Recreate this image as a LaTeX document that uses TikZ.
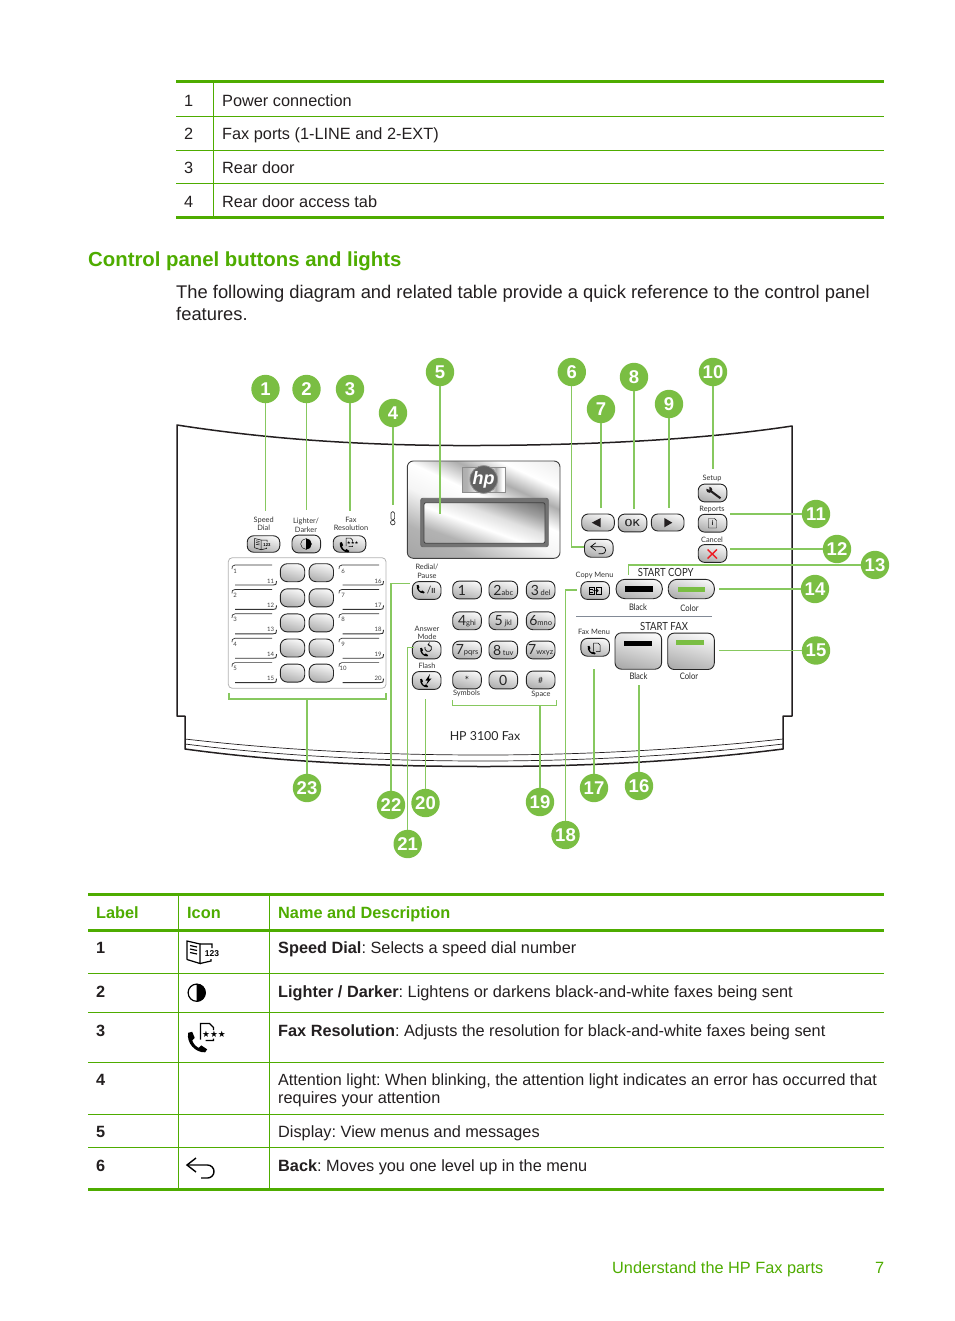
\documentclass[tikz,border=0pt]{standalone}
\usepackage{fontspec}
\usepackage{xcolor}
\usetikzlibrary{calc,positioning}
\setmainfont{Liberation Sans}
\newfontfamily\panelfont{Lato}
\newfontfamily\startfont[FakeStretch=0.85]{Lato}
\newfontfamily\symbolfont{DejaVu Sans}
\definecolor{tableGreen}{RGB}{78,172,0}
\definecolor{calloutGreen}{RGB}{122,190,67}
\definecolor{leaderGreen}{RGB}{135,200,95}
\definecolor{lineGray}{RGB}{130,138,150}
\definecolor{inkBlack}{RGB}{35,31,32}
\definecolor{crossRed}{RGB}{237,28,36}
\pgfdeclarehorizontalshading{metalShade}{100bp}{color(0bp)=(black!42);color(30bp)=(black!30);
  color(45bp)=(black!4);color(55bp)=(white);color(64bp)=(black!32);color(72bp)=(white);color(100bp)=(black!18)}
\pgfdeclarehorizontalshading{screenShade}{100bp}{color(0bp)=(black!38);color(30bp)=(black!30);
  color(46bp)=(white);color(58bp)=(black!12);color(70bp)=(black!38);color(100bp)=(black!85)}
\newcommand{\keyDigit}[1]{{\fontsize{14}{14}\selectfont #1}}
\newcommand{\keyLetters}[1]{{\fontsize{7.5}{8}\selectfont #1}}
\newcommand{\phonePath}{(-9,-9) -- (-5,-10) -- (-2.5,-4) -- (-5,-1.5) .. controls (-4,2) and (-1,5) .. (1.5,6)
  -- (4,3.5) -- (10,7.5) -- (8,10.5) .. controls (-2,11) and (-11,1) .. cycle}
\tikzset{
  bodyText/.style={anchor=base west, inner sep=0pt, text=inkBlack, font=\fontsize{16.3}{19}\selectfont},
  boldNum/.style={bodyText, font=\fontsize{16.3}{19}\selectfont\bfseries},
  introText/.style={bodyText, font=\fontsize{18.35}{22}\selectfont},
  headText/.style={anchor=base west, inner sep=0pt, text=tableGreen, font=\fontsize{16.3}{19}\selectfont\bfseries},
  sectionText/.style={anchor=base west, inner sep=0pt, text=tableGreen, font=\fontsize{20.35}{24}\selectfont\bfseries},
  thickRule/.style={draw=tableGreen, line width=3pt},
  thinRule/.style={draw=tableGreen, line width=.9pt},
  callout/.style={circle, fill=calloutGreen, inner sep=0pt, minimum size=28.4pt, text=white,
    font=\fontsize{18.5}{20}\selectfont\bfseries},
  leader/.style={draw=leaderGreen, line width=1.3pt},
  panelLine/.style={draw=inkBlack, line width=1.5pt},
  smallLabel/.style={inner sep=0pt, align=center, text=black!80, font=\panelfont\fontsize{7.4}{8.4}\selectfont},
  startSub/.style={smallLabel, text=black!85, font=\startfont\fontsize{9}{9}\selectfont},
  startLabel/.style={inner sep=0pt, text=black!85, font=\startfont\fontsize{11.2}{12}\selectfont},
  keyPill/.style={draw=black!85, line width=.9pt, rounded corners=6.5pt, inner sep=0pt, top color=black!3,
    bottom color=black!32, shading angle=-15, minimum width=28.6pt, minimum height=17.8pt,
    text=black!85, font=\panelfont},
  memKey/.style={keyPill, minimum width=24.4pt, minimum height=18pt, rounded corners=7pt},
  longKey/.style={keyPill, minimum width=32.6pt, minimum height=17pt},
  startKey/.style={keyPill, minimum width=46.2pt, minimum height=19.4pt, rounded corners=9pt},
  faxKey/.style={keyPill, minimum width=46.6pt, minimum height=36.4pt},
  slotLine/.style={draw=black!80, line width=.7pt},
  slotNum/.style={inner sep=0pt, text=black!75, font=\panelfont\fontsize{6}{6}\selectfont},
  bookicon/.pic={
    \draw (-13,7.5) -- (-13,-11) -- (0,-8) -- (0,11.5) -- (-13,7.5);
    \draw (0,-8) -- (12,-8) -- (12,-4) (0,11.5) -- (11,9) -- (11,7);
    \draw (-10,-6.5) -- (-3,-5) (-10,-3) -- (-3,-1.5) (-10,.5) -- (-3,2);
    \node[transform shape, inner sep=0pt, font=\fontsize{8.5}{9}\selectfont\bfseries] (-num) at (12,2) {123};
  },
  halficon/.pic={
    \draw (0,0) circle (8.6);
    \fill (0,-9) arc[start angle=-90, end angle=90, radius=9] -- cycle;
  },
  backicon/.pic={
    \draw (-5,-10) -- (-14,-3) -- (-5,4);
    \draw (-14,-3) -- (6.5,-3) arc[start angle=-90, end angle=90, radius=6.5] -- (0,10);
  },
  phoneicon/.pic={
    \fill \phonePath;
  },
  docicon/.pic={
    \draw (-6,2) -- (-6,-14) -- (3,-14) -- (7,-10) -- (7,3) -- (-1,3);
  },
  resicon/.pic={
    \fill[shift={(-9.3,4.3)}] \phonePath;
    \draw (-6,2) -- (-6,-14) -- (3,-14) -- (7,-10) -- (7,-7.5) (7,1) -- (7,3) -- (-1,3);
    \node[transform shape, inner sep=0pt, font=\symbolfont\fontsize{8.8}{9}\selectfont] (-stars) at (7.5,-3.3) {★★★};
  },
  copyicon/.pic={
    \draw (-10,-5) rectangle (-1.5,6) (1.5,-5) rectangle (10,6);
    \draw (-4,.5) -- (5,.5) (2.5,-2) -- (5,.5) -- (2.5,3);
    \draw (-8,-2) -- (-3.5,-2) (-8,2.5) -- (-3.5,2.5);
  },
}
\begin{document}
\frenchspacing
\begin{tikzpicture}[x=1pt,y=-1pt]
  \useasboundingbox (0,0) rectangle (954,1321);
  % Parts table
  \draw[thickRule] (176,81.5) -- (884,81.5);
  \draw[thinRule] (176,116.5) -- (884,116.5);
  \draw[thinRule] (176,150.5) -- (884,150.5);
  \draw[thinRule] (176,183.5) -- (884,183.5);
  \draw[thickRule] (176,218) -- (884,218);
  \draw[thinRule] (213.5,82) -- (213.5,218);
  \node[bodyText] (partNum1) at (184,106.5) {1};
  \node[bodyText] (partText1) at (222,106.5) {Power connection};
  \node[bodyText] (partNum2) at (184,139.5) {2};
  \node[bodyText] (partText2) at (222,139.5) {Fax ports (1-LINE and 2-EXT)};
  \node[bodyText] (partNum3) at (184,173.5) {3};
  \node[bodyText] (partText3) at (222,173.5) {Rear door};
  \node[bodyText] (partNum4) at (184,207.5) {4};
  \node[bodyText] (partText4) at (222,207.5) {Rear door access tab};
  % Section heading
  \node[sectionText] (sectionTitle) at (88,266.5) {Control panel buttons and lights};
  \node[introText] (introLine1) at (176,298.5) {The following diagram and related table provide a quick reference to the control panel};
  \node[introText] (introLine2) at (176,320.5) {features.};
  % Panel outline
  \draw[panelLine, line cap=round, line join=round] (177,716) -- (177,425)
    .. controls (280,441) and (380,446) .. (480,445.5)
    .. controls (590,445) and (700,440) .. (792,426) -- (792,716) -- (783,716) -- (783,749);
  \draw[panelLine, line join=round] (177,716) -- (185,716) -- (185,749)
    .. controls (280,762) and (380,766.5) .. (484,766.5)
    .. controls (580,766.5) and (680,762) .. (783,749);
  \draw[draw=inkBlack, line width=.7pt] (185,739) .. controls (280,750) and (380,755) .. (484,755)
    .. controls (580,755) and (680,750) .. (783,739);
  \draw[draw=inkBlack, line width=.7pt] (185,744) .. controls (280,756) and (380,761) .. (484,761)
    .. controls (580,761) and (680,756) .. (783,744);
  \node[startLabel, font=\panelfont\fontsize{12.4}{13}\selectfont] (modelName) at (485,736) {HP 3100 Fax};
  % Display
  \draw[draw=black!75, line width=.9pt, rounded corners=6pt, shading=metalShade, shading angle=65]
    (407.3,461) rectangle (560,558.3);
  \draw[draw=black!45, line width=.6pt, shading=metalShade, shading angle=0]
    (462.7,467.3) rectangle (505,492.7);
  \node[circle, fill=black!62, draw=black!45, line width=.8pt, minimum size=23pt, inner sep=0pt, text=white,
    font=\fontsize{18}{18}\selectfont\bfseries\itshape] (hpLogo) at (483.7,479.5) {hp};
  \draw[draw=black!60, line width=.8pt, fill=black!55, rounded corners=2pt]
    (420.7,498.3) rectangle (548.3,546.7);
  \draw[draw=black!75, line width=.8pt, rounded corners=2pt, shading=screenShade, shading angle=70]
    (424,502.7) rectangle (545,543.3);
  % Attention light
  \draw[draw=black!80, line width=.7pt, rounded corners=1.5pt] (391,511.7) rectangle (394.6,520);
  \draw[draw=black!80, line width=.7pt] (392.8,522.6) circle (2.3);
  % Top buttons
  \node[smallLabel] (speedLabel) at (263.7,524) {Speed\\Dial};
  \node[smallLabel] (lighterLabel) at (306,525.5) {Lighter/\\Darker};
  \node[smallLabel] (faxResLabel) at (351,524) {Fax\\Resolution};
  \node[longKey, minimum height=16.5pt] (speedKey) at (263.5,544) {};
  \node[keyPill] (lighterKey) at (306.3,544) {};
  \node[longKey, minimum height=16.5pt] (faxResKey) at (349.5,544) {};
  \pic[scale=.5, line width=.5pt] (speedIcon) at (261,544) {bookicon};
  \pic[scale=.62] (lighterIcon) at (306,544) {halficon};
  \pic[scale=.5, line width=.5pt] (faxResIcon) at (349,545) {resicon};
  % Speed dial block
  \draw[draw=black!30, line width=.8pt, rounded corners=4pt] (228.3,557.7) rectangle (386,688.3);
  \foreach \slotRow/\leftNum/\leftEnd/\rightNum/\rightEnd in {0/1/11/6/16,1/2/12/7/17,2/3/13/8/18,3/4/14/9/19,4/5/15/10/20}{
    \pgfmathsetmacro\slotY{565+24.4*\slotRow}
    \pgfmathsetmacro\keyY{572.7+25.1*\slotRow}
    \node[memKey] (memLeft\slotRow) at (292.5,\keyY) {};
    \node[memKey] (memRight\slotRow) at (321.3,\keyY) {};
    \draw[slotLine] (232,\slotY+4) .. controls (232,\slotY+1) .. (235,\slotY) -- (272,\slotY);
    \draw[slotLine, line width=.9pt] (235,\slotY+20) -- (273,\slotY+20) .. controls (276,\slotY+20) .. (276.5,\slotY+16);
    \draw[slotLine] (339,\slotY+4) .. controls (339,\slotY+1) .. (342,\slotY) -- (379,\slotY);
    \draw[slotLine, line width=.9pt] (342.5,\slotY+20) -- (380,\slotY+20) .. controls (383,\slotY+20) .. (383.5,\slotY+16);
    \node[slotNum] (slotNumL\slotRow) at (235.2,\slotY+6) {\leftNum};
    \node[slotNum] (slotEndL\slotRow) at (270.5,\slotY+16) {\leftEnd};
    \node[slotNum] (slotNumR\slotRow) at (343,\slotY+6) {\rightNum};
    \node[slotNum] (slotEndR\slotRow) at (378,\slotY+16) {\rightEnd};
  }
  \draw[leader, line width=1.8pt] (228.8,693) -- (228.8,699) -- (385.6,699) -- (385.6,693);
  % Function keys
  \node[smallLabel] (redialLabel) at (427,571.3) {Redial/\\Pause};
  \node[keyPill] (redialKey) at (426.7,590.5) {\hspace*{9pt}\fontsize{10}{10}\selectfont/\textbf{\fontsize{7}{7}\selectfont II}};
  \pic[scale=.42] (redialIcon) at (420.5,589) {phoneicon};
  \node[smallLabel] (answerLabel) at (427,633) {Answer\\Mode};
  \node[keyPill] (answerKey) at (426.7,650) {};
  \pic[scale=.42] (answerIcon) at (424,652) {phoneicon};
  \draw[line width=.7pt, -{>[scale=.6]}] (425,647) arc[start angle=200, end angle=-100, radius=3.4];
  \node[smallLabel] (flashLabel) at (427,666) {Flash};
  \node[keyPill] (flashKey) at (426.7,680.5) {};
  \pic[scale=.42] (flashIcon) at (424,683) {phoneicon};
  \fill (430,674) -- (425.5,680.5) -- (428,680.5) -- (426,685) -- (431.5,678.5) -- (428.8,678.5) -- cycle;
  % Number keys
  \node[keyPill] (keyOne) at (467,590) {\keyDigit{1}\hspace*{10pt}};
  \node[keyPill] (keyTwo) at (503.3,590) {\keyDigit{2}\keyLetters{abc}};
  \node[keyPill] (keyThree) at (540.7,590) {\keyDigit{3}\,\keyLetters{del}};
  \node[keyPill] (keyFour) at (467,620.8) {\keyDigit{4}\keyLetters{ghi}};
  \node[keyPill] (keyFive) at (503.3,620.8) {\keyDigit{5}\,\keyLetters{jkl}};
  \node[keyPill] (keySix) at (540.7,620.8) {\keyDigit{6}\keyLetters{mno}};
  \node[keyPill] (keySeven) at (467,650) {\keyDigit{7}\keyLetters{pqrs}};
  \node[keyPill] (keyEight) at (503.3,650) {\keyDigit{8}\,\keyLetters{tuv}};
  \node[keyPill] (keyNine) at (540.7,650) {\keyDigit{7}\keyLetters{wxyz}};
  \node[keyPill, font=\panelfont\fontsize{11}{11}\selectfont] (keyStar) at (467,680) {*};
  \node[keyPill] (keyZero) at (503.3,680) {\keyDigit{0}};
  \node[keyPill, font=\panelfont\fontsize{8.5}{9}\selectfont] (keyHash) at (540.7,680) {\#};
  \node[smallLabel] (symbolsLabel) at (466.5,693.5) {Symbols};
  \node[smallLabel] (spaceLabel) at (541,694) {Space};
  \draw[leader, line width=1pt] (452.3,700) -- (452.3,705.3) -- (556.7,705.3) -- (556.7,700);
  % Navigation keys
  \node[longKey] (leftKey) at (598,522.5) {};
  \node[keyPill] (okKey) at (632.5,523) {\fontsize{10}{10}\selectfont\sffamily\bfseries OK};
  \node[longKey] (rightKey) at (667.7,522.5) {};
  \fill[inkBlack] (591.7,522.7) -- (600.7,518) -- (600.7,527.3) -- cycle;
  \fill[inkBlack] (672.3,522.7) -- (664.3,518) -- (664.3,527.3) -- cycle;
  \node[keyPill] (backKey) at (598.8,548.3) {};
  \pic[scale=.55, line width=.7pt] (backPanelIcon) at (598.5,548.3) {backicon};
  % Setup, reports and cancel
  \node[smallLabel] (setupLabel) at (712,478) {Setup};
  \node[keyPill] (setupKey) at (712.5,493) {};
  \draw[line width=2.1pt, inkBlack] (710,490.5) -- (720.5,498.3);
  \fill[inkBlack] (709.3,489.8) circle (3);
  \fill[black!15] (705.5,488) -- (709.5,485.5) -- (709.3,489.8) -- cycle;
  \node[smallLabel] (reportsLabel) at (712,509) {Reports};
  \node[keyPill, font=\fontsize{7}{7}\selectfont\bfseries] (reportsKey) at (712.5,523.2) {i};
  \draw[line width=.4pt] (708.5,518.5) -- (714.5,518.5) -- (716.5,520.5) -- (716.5,528) -- (708.5,528) -- cycle;
  \node[smallLabel] (cancelLabel) at (712,539.5) {Cancel};
  \node[keyPill] (cancelKey) at (712.5,553.5) {};
  \draw[draw=crossRed, line width=1.4pt] (707.5,549.5) -- (717,558.5) (717,549.5) -- (707.5,558.5);
  % Copy keys
  \node[startLabel] (startCopy) at (665.7,572) {START COPY};
  \node[smallLabel] (copyMenuLabel) at (594.5,575) {Copy Menu};
  \node[keyPill] (copyMenuKey) at (595.2,590.5) {};
  \pic[scale=.62, line width=.5pt] (copyMenuIcon) at (595.2,590.3) {copyicon};
  \node[startKey] (copyBlackKey) at (639.2,589) {};
  \node[startKey] (copyColorKey) at (691.3,589) {};
  \fill[black] (625,586) rectangle (653,592);
  \fill[calloutGreen] (677.7,586.5) rectangle (705,591.7);
  \node[startSub] (copyBlackLabel) at (638,607) {Black};
  \node[startSub] (copyColorLabel) at (689.5,608) {Color};
  \draw[draw=lineGray, line width=.7pt] (576,616.7) -- (711.7,616.7);
  % Fax keys
  \node[startLabel] (startFax) at (664,626) {START FAX};
  \node[smallLabel] (faxMenuLabel) at (594,632) {Fax Menu};
  \node[keyPill] (faxMenuKey) at (595.2,647.3) {};
  \pic[scale=.42] (faxMenuPhone) at (591.5,650) {phoneicon};
  \pic[scale=.5, line width=.5pt] (faxMenuDoc) at (596.5,650) {docicon};
  \node[faxKey] (faxBlackKey) at (638.3,651) {};
  \node[faxKey] (faxColorKey) at (691,651.3) {};
  \fill[black] (624,641) rectangle (652,646);
  \fill[calloutGreen] (676,640) rectangle (704,645);
  \node[startSub] (faxBlackLabel) at (638.5,676) {Black};
  \node[startSub] (faxColorLabel) at (689,676) {Color};
  % Callouts
  \node[callout] (call1) at (265.5,389) {1};
  \node[callout] (call2) at (306.5,389) {2};
  \node[callout] (call3) at (350,389) {3};
  \node[callout] (call4) at (393,413) {4};
  \node[callout] (call5) at (440,372) {5};
  \node[callout] (call6) at (571.8,372) {6};
  \node[callout] (call7) at (601,409) {7};
  \node[callout] (call8) at (634,377) {8};
  \node[callout] (call9) at (669,404) {9};
  \node[callout] (call10) at (713,372) {10};
  \node[callout] (call11) at (816,514) {11};
  \node[callout] (call12) at (837,549) {12};
  \node[callout] (call13) at (875,565) {13};
  \node[callout] (call14) at (815,589) {14};
  \node[callout] (call15) at (816,650.5) {15};
  \node[callout] (call16) at (639,786) {16};
  \node[callout] (call17) at (594,788) {17};
  \node[callout] (call18) at (565.5,835) {18};
  \node[callout] (call19) at (540,802) {19};
  \node[callout] (call20) at (425.5,803) {20};
  \node[callout] (call21) at (407.7,844) {21};
  \node[callout] (call22) at (391,805) {22};
  \node[callout] (call23) at (307,788) {23};
  % Callout ends
  \coordinate (end1) at (265.5,511);
  \coordinate (end2) at (306.5,510);
  \coordinate (end3) at (350,511);
  \coordinate (end4) at (393,505);
  \coordinate (end5) at (440,514);
  \coordinate (end6) at (583.5,547);
  \coordinate (end7) at (601,508);
  \coordinate (end8) at (634,509);
  \coordinate (end9) at (669,508);
  \coordinate (end10) at (713,469);
  \coordinate (end11) at (730,514);
  \coordinate (end12) at (730,549);
  \coordinate (end13) at (628.5,575);
  \coordinate (end14) at (719,589);
  \coordinate (end15) at (719,650.5);
  \coordinate (end16) at (639,685);
  \coordinate (end17) at (594,669);
  \coordinate (end18) at (577,590);
  \coordinate (end19) at (540,705.3);
  \coordinate (end20) at (425.5,699);
  \coordinate (end21) at (414,647.5);
  \coordinate (end22) at (410,583.5);
  \coordinate (end23) at (307,699);
  % Leaders
  \draw[leader] (call1) -- (end1);
  \draw[leader] (call2) -- (end2);
  \draw[leader] (call3) -- (end3);
  \draw[leader] (call4) -- (end4);
  \draw[leader] (call5) -- (end5);
  \draw[leader] (call6) |- (end6);
  \draw[leader] (call7) -- (end7);
  \draw[leader] (call8) -- (end8);
  \draw[leader] (call9) -- (end9);
  \draw[leader] (call10) -- (end10);
  \draw[leader] (call11) -- (end11);
  \draw[leader] (call12) -- (end12);
  \draw[leader] (call13) -| (end13);
  \draw[leader] (call14) -- (end14);
  \draw[leader] (call15) -- (end15);
  \draw[leader] (call16) -- (end16);
  \draw[leader] (call17) -- (end17);
  \draw[leader] (call18) |- (end18);
  \draw[leader] (call19) -- (end19);
  \draw[leader] (call20) -- (end20);
  \draw[leader] (call21) |- (end21);
  \draw[leader] (call22) |- (end22);
  \draw[leader] (call23) -- (end23);
  % Description table
  \draw[thickRule] (88,894) -- (884,894);
  \draw[thickRule] (88,930) -- (884,930);
  \draw[thinRule] (88,973.5) -- (884,973.5);
  \draw[thinRule] (88,1012.5) -- (884,1012.5);
  \draw[thinRule] (88,1062.5) -- (884,1062.5);
  \draw[thinRule] (88,1114.5) -- (884,1114.5);
  \draw[thinRule] (88,1147.5) -- (884,1147.5);
  \draw[thickRule] (88,1189) -- (884,1189);
  \draw[thinRule] (178.5,894) -- (178.5,1189);
  \draw[thinRule] (269.5,894) -- (269.5,1189);
  \node[headText] (headLabel) at (96,918) {Label};
  \node[headText] (headIcon) at (187,918) {Icon};
  \node[headText] (headName) at (278,918) {Name and Description};
  \node[boldNum] (rowNum1) at (96,953) {1};
  \node[bodyText] (rowText1) at (278,953) {\textbf{Speed Dial}: Selects a speed dial number};
  \node[boldNum] (rowNum2) at (96,997) {2};
  \node[bodyText] (rowText2) at (278,997) {\textbf{Lighter / Darker}: Lightens or darkens black-and-white faxes being sent};
  \node[boldNum] (rowNum3) at (96,1036) {3};
  \node[bodyText] (rowText3) at (278,1036) {\textbf{Fax Resolution}: Adjusts the resolution for black-and-white faxes being sent};
  \node[boldNum] (rowNum4) at (96,1085) {4};
  \node[bodyText, font=\fontsize{16.15}{19}\selectfont] (rowText4) at (278,1085) {Attention light: When blinking, the attention light indicates an error has occurred that};
  \node[bodyText] (rowText4b) at (278,1103) {requires your attention};
  \node[boldNum] (rowNum5) at (96,1137) {5};
  \node[bodyText] (rowText5) at (278,1137) {Display: View menus and messages};
  \node[boldNum] (rowNum6) at (96,1171) {6};
  \node[bodyText] (rowText6) at (278,1171) {\textbf{Back}: Moves you one level up in the menu};
  \pic[line width=1.2pt] (tableBook) at (200,952) {bookicon};
  \pic[line width=1.2pt] (tableHalf) at (196.7,992.7) {halficon};
  \pic[line width=1.3pt] (tableRes) at (206.5,1037.5) {resicon};
  \pic[line width=1.4pt] (tableBack) at (201,1168) {backicon};
  % Footer
  \node[bodyText, text=tableGreen] (footerTitle) at (612,1273) {Understand the HP Fax parts};
  \node[bodyText, text=tableGreen] (footerPage) at (875,1273) {7};
\end{tikzpicture}
\end{document}
